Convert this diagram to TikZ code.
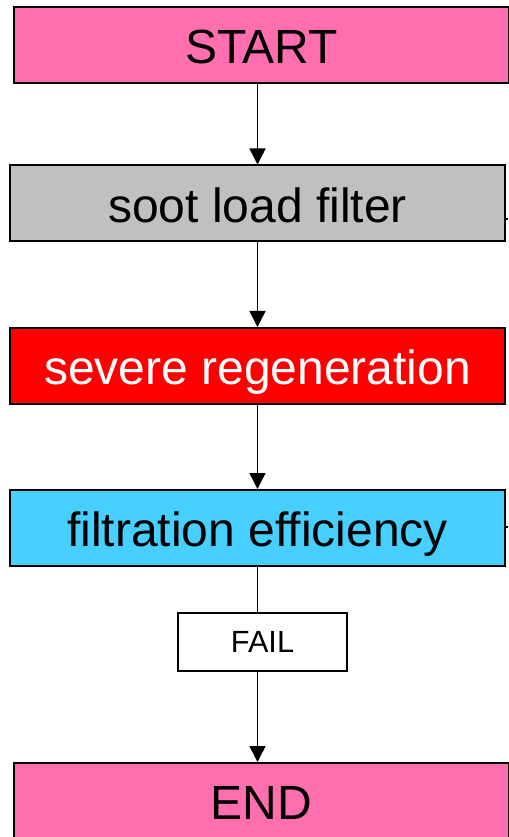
\documentclass[tikz,border=0pt]{standalone}
\usepackage{fontspec}
\setmainfont{Liberation Sans}
\usetikzlibrary{arrows.meta, calc}
\definecolor{c1}{HTML}{000000}
\definecolor{endcolor}{HTML}{FF6EAF}
\definecolor{sootcolor}{HTML}{C0C0C0}
\definecolor{regencolor}{HTML}{FF0000}
\definecolor{filtcolor}{HTML}{47CFFF}

\begin{document}
\begin{tikzpicture}[
    x=0.75pt, y=-0.75pt,
    every node/.style={font=\fontsize{36}{40}\selectfont},
    stage/.style={draw=c1, line width=1.5pt, inner sep=0pt,
        minimum width=371pt, minimum height=57pt,
        text height=28pt, text depth=0pt},
    verdict/.style={draw=c1, line width=1.1pt, inner sep=0pt,
        minimum width=127pt, minimum height=43.5pt,
        text height=16pt, text depth=0pt,
        font=\fontsize{23}{26}\selectfont},
    flow/.style={c1, line width=1.1pt, -{Triangle[length=12pt, width=12pt]}},
]

\useasboundingbox (0,0) rectangle (508,837);

% ---------------------------------------------------------------- boxes
\node[stage, fill=endcolor] (start) at (261.5, 45) {START};
\node[stage, fill=sootcolor] (soot) at (257.5, 203.5) {soot load filter};
\node[stage, fill=regencolor, text=white] (regen) at (257.5, 366) {severe regeneration};
\node[stage, fill=filtcolor] (filt) at (257.5, 528) {filtration efficiency};
\node[verdict, fill=white] (fail) at (262.5, 642) {FAIL};
\node[stage, fill=endcolor] (end) at (261.5, 801) {END};

% ---------------------------------------------------------------- arrows
\draw[flow] (start.south -| soot) -- (soot.north);
\draw[flow] (soot.south) -- (regen.north);
\draw[flow] (regen.south) -- (filt.north);
\draw[c1, line width=1.1pt] (filt.south) -- (filt.south |- fail.north);
\draw[flow] (fail.south -| filt) -- (end.north -| filt);

% stubs leaving to the right
\coordinate (sootout) at (508, 219);
\coordinate (filtout) at (508, 527);
\draw[c1, line width=1.1pt] (soot.east |- sootout) -- (sootout);
\draw[c1, line width=1.1pt] (filt.east |- filtout) -- (filtout);

\end{tikzpicture}
\end{document}
